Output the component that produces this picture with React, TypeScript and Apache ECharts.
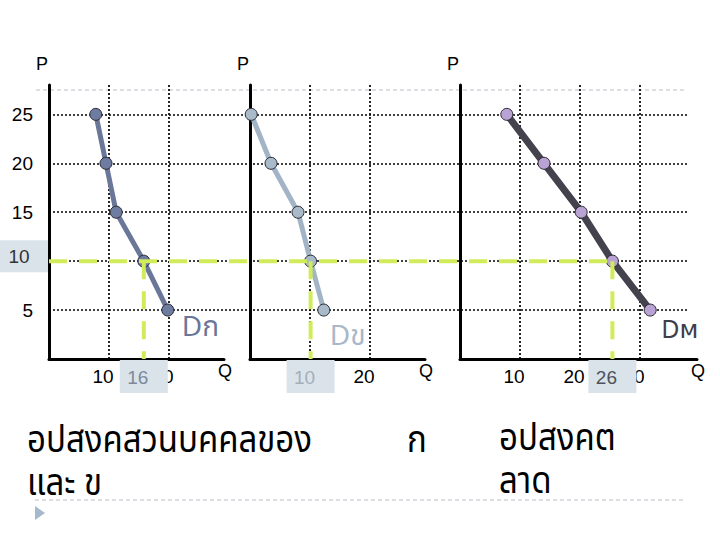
import React, { useEffect, useRef } from "react";
import * as echarts from "echarts";

// Price levels (shared by all three panels)
const prices = [25, 20, 15, 10, 5];
// Quantities demanded
const qtyA = [7.8, 9.5, 11.2, 15.8, 19.8]; // Dก
const qtyB = [0.2, 3.5, 8, 10.1, 12.3]; // Dข
const qtyM = [7.8, 14, 20.2, 25.4, 31.7]; // Dм (market)
// Equilibrium at P = 10
const eqPrice = 10;
const eqQty = [15.8, 10.1, 25.4];
const eqQtyLabels = ["16", "10", "26"];
const xTicks = [10, 20, 30];
const seriesNames = ["Dก", "Dข", "Dм"];
const captionLeft = ["อปสงคสวนบคคลของ", "และ ข"];
const captionMid = "ก";
const captionRight = ["อปสงคต", "ลาด"];

const lineColors = ["#6b7799", "#a2b4c6", "#44424c"];
const markerColors = ["#6f7ca1", "#a9bacb", "#b9a3d4"];
const labelColors = ["#6b7799", "#a8b8c8", "#3e3e48"];
const GREEN = "#d0ec5a";
const THAI = '"Noto Sans Thai", "Noto Sans Thai Looped", "Leelawadee UI", Tahoma, "DejaVu Sans", sans-serif';
const LAT = '"Liberation Sans", Arial, sans-serif';

export default function App() {
  const ref = useRef<HTMLDivElement>(null);
  useEffect(() => {
    if (!ref.current) return;
    const chart = echarts.init(ref.current, undefined, { renderer: "svg" });

    const panels = [
      { left: 49, width: 175, max: 175 / 6 },
      { left: 250, width: 175, max: 175 / 6 },
      { left: 460, width: 237, max: 237 / 6 },
    ];
    const top = 85;
    const height = 274;
    const yMax = 28;

    const dotted = { color: "#000", width: 1.7, type: [2, 2] as any };

    const grids: any[] = [{ left: 49, top, width: 639, height }];
    panels.forEach((p) => grids.push({ left: p.left, top, width: p.width, height }));

    const xAxes: any[] = [
      { gridIndex: 0, type: "value", min: 0, max: 1, show: false },
    ];
    const yAxes: any[] = [
      {
        gridIndex: 0,
        type: "value",
        min: 0,
        max: yMax,
        interval: 5,
        axisLine: { show: false },
        axisTick: { show: false },
        axisLabel: {
          show: true,
          margin: 16,
          fontSize: 19,
          color: "#000",
          fontFamily: LAT,
          showMinLabel: false,
          showMaxLabel: false,
          formatter: (v: number) => (v === eqPrice ? "" : String(v)),
        },
        splitLine: { show: true, lineStyle: dotted, showMinLine: false, showMaxLine: false },
      },
    ];
    panels.forEach((p, i) => {
      xAxes.push({
        gridIndex: i + 1,
        type: "value",
        min: 0,
        max: p.max,
        interval: 10,
        name: "Q",
        nameLocation: "end",
        nameGap: 1,
        nameTextStyle: {
          fontSize: 18,
          color: "#000",
          fontFamily: LAT,
          align: "center",
          verticalAlign: "top",
          padding: [3, 0, 0, 0],
        },
        axisLine: { show: true, lineStyle: { color: "#000", width: 3 } },
        axisTick: { show: false },
        axisLabel: {
          show: true,
          fontSize: 19,
          color: "#000",
          fontFamily: LAT,
          margin: 8,
          padding: [0, 12, 0, 0],
          showMinLabel: false,
          showMaxLabel: false,
          formatter: (v: number) => (xTicks.includes(v) ? String(v) : ""),
        },
        splitLine: { show: true, lineStyle: dotted, showMinLine: false, showMaxLine: false },
      });
      yAxes.push({
        gridIndex: i + 1,
        type: "value",
        min: 0,
        max: yMax,
        interval: 5,
        name: "P",
        nameLocation: "end",
        nameGap: 12,
        nameTextStyle: {
          fontSize: 18,
          color: "#000",
          fontFamily: LAT,
          padding: [0, 14, 0, 0],
        },
        axisLine: { show: true, lineStyle: { color: "#000", width: 3 } },
        axisTick: { show: false },
        axisLabel: { show: false },
        splitLine: { show: false },
      });
    });

    const qtys = [qtyA, qtyB, qtyM];
    const endOffsets = [[6, 17], [-2, 26], [3, 20]];
    const endSizes = [28, 28, 25];
    const series: any[] = [];
    qtys.forEach((q, i) => {
      series.push({
        type: "line",
        xAxisIndex: i + 1,
        yAxisIndex: i + 1,
        data: q.map((v, k) => [v, prices[k]]),
        symbol: "circle",
        symbolSize: 12,
        lineStyle: { color: lineColors[i], width: i === 2 ? 7 : 5 },
        itemStyle: { color: markerColors[i], borderColor: "#2a2a33", borderWidth: 1 },
        z: 3,
        endLabel: {
          show: true,
          formatter: seriesNames[i],
          color: labelColors[i],
          fontSize: endSizes[i],
          fontFamily: THAI,
          offset: endOffsets[i],
        },
      });
      series.push({
        type: "line",
        xAxisIndex: i + 1,
        yAxisIndex: i + 1,
        data: [
          [eqQty[i], eqPrice],
          [eqQty[i], 0],
        ],
        symbol: "none",
        lineStyle: { color: GREEN, width: 4, type: [18, 12] },
        z: 6,
      });
    });

    chart.setOption({
      animation: false,
      grid: grids,
      xAxis: xAxes,
      yAxis: yAxes,
      series,
    });

    // Positions derived from the library's scales
    const pStart = chart.convertToPixel({ xAxisIndex: 1, yAxisIndex: 1 }, [0, eqPrice]) as number[];
    const pEnd = chart.convertToPixel({ xAxisIndex: 3, yAxisIndex: 3 }, [eqQty[2], eqPrice]) as number[];
    const graphic: any[] = [
      {
        type: "line",
        shape: { x1: pStart[0], y1: pStart[1], x2: pEnd[0], y2: pEnd[1] },
        style: { stroke: GREEN, lineWidth: 4, lineDash: [18, 12] },
        z: 20,
      },
      // y highlight box for P = 10
      {
        type: "rect",
        shape: { x: 0, y: pStart[1] - 21, width: 48, height: 32 },
        style: { fill: "#dae3ea" },
        z: 30,
      },
      {
        type: "text",
        x: 19,
        y: pStart[1] - 5,
        style: {
          text: String(eqPrice),
          fontSize: 19,
          fontFamily: LAT,
          fill: "#333",
          align: "center",
          verticalAlign: "middle",
        },
        z: 31,
      },
      // top thin dashed rule
      {
        type: "line",
        shape: { x1: 36, y1: 90, x2: 685, y2: 90 },
        style: { stroke: "#b9bec6", lineWidth: 1, lineDash: [4, 3] },
        z: -1,
      },
      // bottom thin dashed rule
      {
        type: "line",
        shape: { x1: 35, y1: 500, x2: 685, y2: 500 },
        style: { stroke: "#b9bec6", lineWidth: 1, lineDash: [4, 3] },
      },
      {
        type: "polygon",
        shape: { points: [[35, 506], [45, 513], [35, 520]] },
        style: { fill: "#a6b8cc" },
      },
    ];
    const eqTextColors = ["#7d8a9a", "#a3aeba", "#4d525c"];
    eqQty.forEach((q, i) => {
      const px = chart.convertToPixel({ xAxisIndex: i + 1, yAxisIndex: i + 1 }, [q, 0]) as number[];
      graphic.push({
        type: "rect",
        shape: { x: px[0] - 24, y: px[1] + 1, width: 48, height: 33 },
        style: { fill: "#dae3ea" },
        z: 30,
      });
      graphic.push({
        type: "text",
        x: px[0] - 6,
        y: px[1] + 18,
        style: {
          text: eqQtyLabels[i],
          fontSize: 19,
          fontFamily: LAT,
          fill: eqTextColors[i],
          align: "center",
          verticalAlign: "middle",
        },
        z: 31,
      });
    });
    const thaiStyle = { fontSize: 33, fontFamily: THAI, fill: "#000", lineHeight: 37 };
    graphic.push({
      type: "text",
      x: 27,
      y: 419,
      scaleY: 1.16,
      style: { ...thaiStyle, text: captionLeft.join("\n") },
    });
    graphic.push({ type: "text", x: 407, y: 419, scaleY: 1.16, style: { ...thaiStyle, text: captionMid } });
    graphic.push({
      type: "text",
      x: 499,
      y: 417,
      scaleY: 1.16,
      style: { ...thaiStyle, text: captionRight.join("\n") },
    });

    chart.setOption({ graphic });

    return () => chart.dispose();
  }, []);
  return <div ref={ref} style={{ width: 720, height: 540, position: "absolute", left: 0, top: 0 }} />;
}
